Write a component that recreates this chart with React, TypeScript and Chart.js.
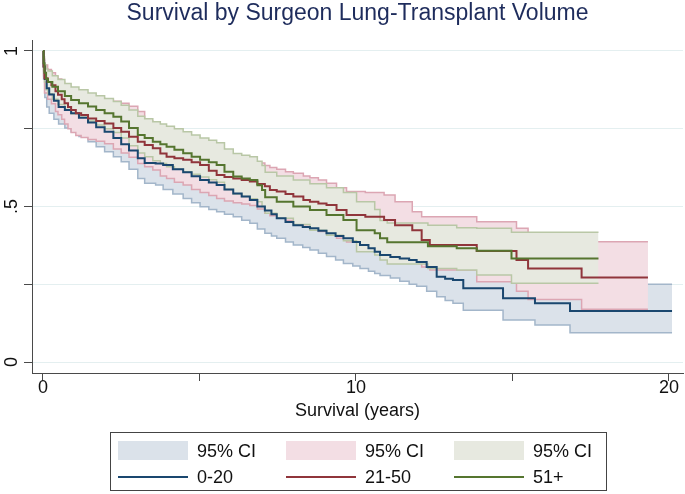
import React, { useEffect, useRef } from 'react';
import { Chart, registerables } from 'chart.js';

Chart.register(...registerables);

const FONT = '"Liberation Sans", Arial, Helvetica, sans-serif';

// ---- 0-20 (navy) ----
const blueTimes = [0, 0.02, 0.06, 0.12, 0.2, 0.35, 0.5, 0.7, 0.9, 1.15, 1.44, 1.7, 1.97, 2.25, 2.5, 2.75, 3.03, 3.25, 3.6, 3.84, 4.15, 4.48, 4.75, 5.02, 5.3, 5.55, 5.8, 6.08, 6.35, 6.61, 6.85, 7.09, 7.3, 7.47, 7.75, 8.0, 8.3, 8.53, 8.8, 9.06, 9.35, 9.6, 9.9, 10.13, 10.4, 10.6, 10.77, 11.1, 11.4, 11.7, 11.94, 12.26, 12.58, 12.85, 13.1, 13.43, 14.7, 15.72, 16.84, 20.1];
const blueSurv = [1.0, 0.95, 0.91, 0.88, 0.86, 0.84, 0.82, 0.81, 0.80, 0.785, 0.77, 0.755, 0.74, 0.72, 0.70, 0.68, 0.655, 0.64, 0.638, 0.633, 0.62, 0.61, 0.597, 0.585, 0.577, 0.569, 0.555, 0.542, 0.532, 0.521, 0.50, 0.487, 0.475, 0.462, 0.45, 0.44, 0.434, 0.43, 0.422, 0.414, 0.405, 0.398, 0.386, 0.376, 0.366, 0.355, 0.344, 0.338, 0.333, 0.328, 0.322, 0.306, 0.274, 0.268, 0.264, 0.237, 0.205, 0.189, 0.164, 0.164];
const blueLower = [1.0, 0.91, 0.85, 0.82, 0.80, 0.78, 0.765, 0.752, 0.74, 0.725, 0.708, 0.692, 0.676, 0.66, 0.644, 0.62, 0.59, 0.575, 0.569, 0.555, 0.54, 0.526, 0.512, 0.499, 0.49, 0.483, 0.475, 0.467, 0.456, 0.446, 0.428, 0.414, 0.405, 0.398, 0.386, 0.376, 0.368, 0.36, 0.35, 0.339, 0.328, 0.317, 0.309, 0.301, 0.292, 0.285, 0.278, 0.27, 0.26, 0.25, 0.244, 0.228, 0.21, 0.198, 0.189, 0.167, 0.135, 0.119, 0.094, 0.094];
const blueUpper = [1.0, 0.97, 0.94, 0.92, 0.90, 0.88, 0.865, 0.855, 0.845, 0.835, 0.82, 0.805, 0.792, 0.775, 0.758, 0.738, 0.715, 0.70, 0.70, 0.695, 0.685, 0.675, 0.665, 0.655, 0.648, 0.64, 0.628, 0.615, 0.605, 0.595, 0.575, 0.562, 0.55, 0.538, 0.525, 0.515, 0.508, 0.503, 0.495, 0.487, 0.48, 0.473, 0.462, 0.452, 0.442, 0.432, 0.42, 0.415, 0.41, 0.405, 0.40, 0.385, 0.35, 0.345, 0.34, 0.315, 0.28, 0.265, 0.25, 0.25];

// ---- 21-50 (maroon) ----
const redTimes = [0, 0.02, 0.05, 0.15, 0.27, 0.4, 0.48, 0.6, 0.69, 0.8, 0.9, 1.05, 1.22, 1.44, 1.7, 1.97, 2.25, 2.5, 2.75, 3.03, 3.25, 3.51, 3.75, 3.95, 4.2, 4.48, 4.75, 5.02, 5.3, 5.55, 5.8, 6.08, 6.35, 6.61, 6.85, 7.09, 7.25, 7.47, 7.75, 8.0, 8.32, 8.53, 8.8, 9.06, 9.38, 9.7, 10.3, 10.9, 11.25, 11.8, 12.1, 12.36, 13.86, 15.13, 15.5, 17.21, 19.33];
const redSurv = [1.0, 0.95, 0.912, 0.90, 0.89, 0.87, 0.859, 0.845, 0.832, 0.82, 0.81, 0.80, 0.794, 0.783, 0.775, 0.767, 0.752, 0.74, 0.724, 0.708, 0.698, 0.687, 0.67, 0.66, 0.655, 0.65, 0.642, 0.633, 0.615, 0.601, 0.595, 0.59, 0.585, 0.58, 0.572, 0.565, 0.553, 0.548, 0.54, 0.532, 0.521, 0.515, 0.51, 0.505, 0.489, 0.473, 0.467, 0.457, 0.44, 0.424, 0.392, 0.376, 0.357, 0.328, 0.301, 0.272, 0.272];
const redLower = [1.0, 0.92, 0.865, 0.845, 0.83, 0.805, 0.795, 0.78, 0.765, 0.75, 0.738, 0.728, 0.722, 0.715, 0.71, 0.702, 0.685, 0.672, 0.658, 0.638, 0.628, 0.617, 0.598, 0.59, 0.578, 0.569, 0.555, 0.545, 0.535, 0.526, 0.518, 0.512, 0.508, 0.503, 0.492, 0.478, 0.47, 0.463, 0.455, 0.447, 0.436, 0.428, 0.42, 0.414, 0.398, 0.386, 0.378, 0.368, 0.35, 0.332, 0.306, 0.296, 0.258, 0.228, 0.201, 0.17, 0.17];
const redUpper = [1.0, 0.975, 0.955, 0.94, 0.93, 0.918, 0.91, 0.90, 0.892, 0.885, 0.878, 0.87, 0.865, 0.855, 0.848, 0.842, 0.838, 0.832, 0.822, 0.805, 0.775, 0.757, 0.745, 0.74, 0.73, 0.72, 0.71, 0.70, 0.692, 0.685, 0.675, 0.662, 0.655, 0.645, 0.64, 0.632, 0.625, 0.62, 0.612, 0.607, 0.598, 0.592, 0.585, 0.575, 0.56, 0.548, 0.545, 0.537, 0.515, 0.483, 0.467, 0.467, 0.451, 0.43, 0.414, 0.387, 0.387];

// ---- 51+ (forest green) ----
const greenTimes = [0, 0.02, 0.05, 0.1, 0.16, 0.3, 0.48, 0.7, 0.9, 1.15, 1.44, 1.7, 1.97, 2.25, 2.5, 2.75, 3.03, 3.25, 3.51, 3.75, 3.95, 4.2, 4.48, 4.75, 5.02, 5.3, 5.55, 5.8, 6.08, 6.35, 6.61, 6.85, 7.0, 7.1, 7.47, 8.0, 8.53, 9.06, 9.6, 10.02, 10.6, 10.77, 11.0, 12.3, 13.22, 13.86, 14.97, 17.75];
const greenSurv = [1.0, 0.96, 0.93, 0.91, 0.90, 0.885, 0.87, 0.855, 0.842, 0.832, 0.821, 0.81, 0.80, 0.788, 0.773, 0.752, 0.73, 0.72, 0.708, 0.70, 0.692, 0.682, 0.671, 0.66, 0.65, 0.642, 0.633, 0.612, 0.596, 0.59, 0.585, 0.568, 0.553, 0.53, 0.515, 0.50, 0.489, 0.473, 0.457, 0.424, 0.414, 0.398, 0.385, 0.372, 0.366, 0.358, 0.333, 0.333];
const greenLower = [1.0, 0.935, 0.9, 0.875, 0.862, 0.845, 0.828, 0.812, 0.798, 0.787, 0.775, 0.762, 0.75, 0.738, 0.72, 0.695, 0.672, 0.66, 0.647, 0.638, 0.628, 0.62, 0.612, 0.604, 0.595, 0.586, 0.578, 0.555, 0.54, 0.532, 0.525, 0.515, 0.5, 0.478, 0.462, 0.442, 0.424, 0.408, 0.39, 0.355, 0.344, 0.328, 0.315, 0.301, 0.296, 0.28, 0.253, 0.253];
const greenUpper = [1.0, 0.98, 0.955, 0.942, 0.935, 0.92, 0.908, 0.895, 0.884, 0.875, 0.865, 0.856, 0.847, 0.837, 0.825, 0.81, 0.79, 0.782, 0.772, 0.765, 0.758, 0.75, 0.74, 0.73, 0.72, 0.713, 0.705, 0.685, 0.67, 0.665, 0.66, 0.645, 0.632, 0.61, 0.598, 0.585, 0.573, 0.56, 0.545, 0.515, 0.49, 0.455, 0.447, 0.44, 0.432, 0.43, 0.417, 0.417];

// ---- axes & legend text ----
const xTickValues = [0, 5, 10, 15, 20];
const xTickLabels: Record<string, string> = { '0': '0', '10': '10', '20': '20' };
const yTickValues = [0, 0.25, 0.5, 0.75, 1];
const yTickLabels: Record<string, string> = { '0': '0', '0.5': '.5', '1': '1' };
const legendBandLabels = ['95% CI', '95% CI', '95% CI'];
const legendLineLabels = ['0-20', '21-50', '51+'];

const lineColors = ['#1a476f', '#90353b', '#55752f'];
const bandFills = ['#dbe2ea', '#f3dee4', '#e7e9e0'];
const bandEdges = ['#a3b6ca', '#dca6b3', '#b9c7a6'];

function pts(times: number[], vals: number[]) {
  return times.map((t, i) => ({ x: t, y: vals[i] }));
}

export default function App() {
  const ref = useRef<HTMLCanvasElement>(null);

  useEffect(() => {
    const yLabelPlugin = {
      id: 'yRotatedLabels',
      afterDraw(chart: any) {
        const s = chart.scales.y;
        const ctx = chart.ctx;
        ctx.save();
        ctx.font = `18px ${FONT}`;
        ctx.fillStyle = '#111';
        ctx.textAlign = 'center';
        ctx.textBaseline = 'alphabetic';
        s.ticks.forEach((tk: any) => {
          const lab = yTickLabels[String(tk.value)];
          if (!lab) return;
          const py = s.getPixelForValue(tk.value);
          ctx.save();
          ctx.translate(16.5, py);
          ctx.rotate(-Math.PI / 2);
          ctx.fillText(lab, 0, 0);
          ctx.restore();
        });
        ctx.restore();
      },
    };

    const edge = (label: string, data: any, k: number, order: number, fill: any) => ({
      label,
      data,
      borderColor: bandEdges[k],
      backgroundColor: bandFills[k],
      borderWidth: 1.5,
      pointRadius: 0,
      stepped: true,
      fill,
      order,
    });
    const line = (label: string, data: any, k: number, order: number) => ({
      label,
      data,
      borderColor: lineColors[k],
      borderWidth: 2,
      pointRadius: 0,
      stepped: true,
      fill: false,
      order,
    });

    const chart = new Chart(ref.current as HTMLCanvasElement, {
      type: 'line',
      data: {
        datasets: [
          line('0-20', pts(blueTimes, blueSurv), 0, 3),
          line('21-50', pts(redTimes, redSurv), 1, 2),
          line('51+', pts(greenTimes, greenSurv), 2, 1),
          edge('0-20 upper', pts(blueTimes, blueUpper), 0, 8, false),
          edge('0-20 lower', pts(blueTimes, blueLower), 0, 9, 3),
          edge('21-50 upper', pts(redTimes, redUpper), 1, 6, false),
          edge('21-50 lower', pts(redTimes, redLower), 1, 7, 5),
          edge('51+ upper', pts(greenTimes, greenUpper), 2, 4, false),
          edge('51+ lower', pts(greenTimes, greenLower), 2, 5, 7),
        ] as any,
      },
      options: {
        responsive: false,
        animation: false,
        devicePixelRatio: 1,
        layout: { padding: { left: 0, right: 2, top: 0, bottom: 71 } },
        plugins: {
          legend: { display: false },
          tooltip: { enabled: false },
          filler: { propagate: false },
          title: {
            display: true,
            text: 'Survival by Surgeon Lung-Transplant Volume',
            fullSize: false,
            color: '#1e2c5c',
            font: { family: FONT, size: 23, weight: 'normal', lineHeight: 1.2 },
            padding: { top: 0, bottom: 12.4 },
          },
        },
        scales: {
          x: {
            type: 'linear',
            min: -0.35,
            max: 20.45,
            afterBuildTicks: (s: any) => {
              s.ticks = xTickValues.map((v) => ({ value: v }));
            },
            afterFit: (s: any) => {
              s.height = 50;
            },
            ticks: {
              autoSkip: false,
              maxRotation: 0,
              minRotation: 0,
              padding: -4,
              color: '#111',
              font: { family: FONT, size: 18, lineHeight: 1.2 },
              callback: (v: any) => xTickLabels[String(v)] ?? '',
            },
            grid: { drawOnChartArea: false, drawTicks: true, tickLength: 8, tickColor: '#4a4a4a', tickWidth: 1 },
            border: { display: true, color: '#4a4a4a', width: 1 },
            title: {
              display: true,
              text: 'Survival (years)',
              color: '#111',
              font: { family: FONT, size: 18, lineHeight: 1.2 },
              padding: { top: 0, bottom: 1.2 },
            },
          },
          y: {
            type: 'linear',
            min: -0.035,
            max: 1.035,
            afterBuildTicks: (s: any) => {
              s.ticks = yTickValues.map((v) => ({ value: v }));
            },
            afterFit: (s: any) => {
              s.width = 32;
            },
            ticks: { display: false },
            grid: { color: '#e4eff0', lineWidth: 1, drawTicks: true, tickLength: 8, tickColor: '#4a4a4a', tickWidth: 1 },
            border: { display: true, color: '#4a4a4a', width: 1 },
          },
        },
      } as any,
      plugins: [yLabelPlugin],
    });
    return () => chart.destroy();
  }, []);

  const colX = [7, 175, 343];
  return (
    <div style={{ position: 'absolute', left: 0, top: 0, width: 685, height: 494, background: '#fff' }}>
      <canvas ref={ref} width={685} height={494} style={{ display: 'block', width: 685, height: 494 }} />
      <div
        style={{
          position: 'absolute',
          left: 110,
          top: 432,
          width: 497,
          height: 59,
          border: '1px solid #444',
          boxSizing: 'border-box',
          fontFamily: FONT,
          fontSize: 18,
          color: '#111',
        }}
      >
        {colX.map((cx, k) => (
          <React.Fragment key={k}>
            <div style={{ position: 'absolute', left: cx, top: 8, width: 70, height: 19, background: bandFills[k] }} />
            <div style={{ position: 'absolute', left: cx + 79, top: 8, height: 21, lineHeight: '21px', whiteSpace: 'nowrap' }}>
              {legendBandLabels[k]}
            </div>
            <div style={{ position: 'absolute', left: cx, top: 43, width: 70, height: 2, background: lineColors[k] }} />
            <div style={{ position: 'absolute', left: cx + 79, top: 34, height: 21, lineHeight: '21px', whiteSpace: 'nowrap' }}>
              {legendLineLabels[k]}
            </div>
          </React.Fragment>
        ))}
      </div>
    </div>
  );
}
